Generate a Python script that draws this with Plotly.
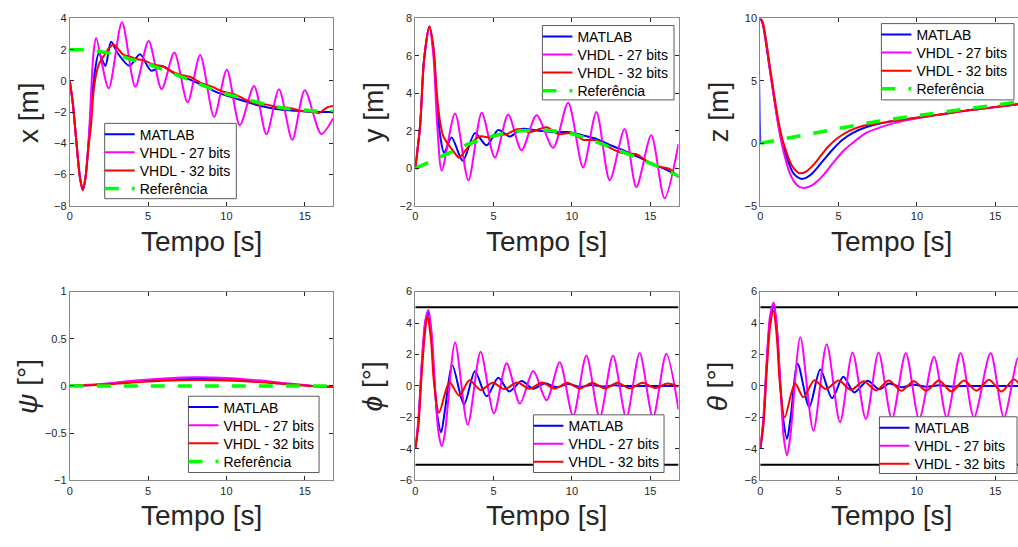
import plotly.graph_objects as go

W, H = 1018, 547
T_END = 16.8

# ---------------- x [m] ----------------
x_t_matlab = [0, 0.2, 0.42, 0.65, 0.83, 1.0, 1.2, 1.4, 1.6, 1.85, 2.27, 2.63, 3.06, 3.8, 4.48,
              5.18, 5.92, 6.77, 7.62, 8.47, 9.32, 10.17, 11.02, 11.87, 12.72, 13.57, 14.42,
              15.27, 16.43, 16.8]
x_matlab = [0, -1.5, -3.9, -6.2, -7.0, -6.2, -3.9, -1.3, 0.6, 1.77, 0.97, 2.5, 1.77, 0.97, 1.7,
            0.66, 0.93, 0.41, 0.1, -0.28, -0.7, -0.99, -1.26, -1.53, -1.72, -1.85, -1.91,
            -1.97, -1.99, -1.99]
x_t_27 = [0, 0.2, 0.42, 0.65, 0.83, 1.0, 1.2, 1.36, 1.51, 1.68, 2.48, 3.33, 4.18, 5.03, 5.86,
          6.67, 7.52, 8.32, 9.21, 10.02, 10.85, 11.76, 12.55, 13.35, 14.2, 15.0, 16.05, 16.8]
x_27 = [0, -1.5, -3.9, -6.2, -7.0, -6.2, -3.9, -0.74, 1.77, 2.75, -0.47, 3.75, -0.38, 2.56, -0.53,
        1.81, -1.37, 1.66, -2.3, 0.72, -2.83, -0.32, -3.41, -0.53, -3.77, -0.6, -3.4, -2.4]
x_t_32 = [0, 0.2, 0.42, 0.65, 0.83, 1.0, 1.2, 1.36, 1.51, 1.68, 1.89, 2.21, 2.53, 2.78, 3.06,
          3.38, 3.8, 4.3, 4.8, 5.3, 5.9, 6.5, 7.1, 7.7, 8.4, 9.1, 9.8, 10.5, 11.2, 11.9,
          12.6, 13.3, 14.0, 14.7, 15.4, 15.9, 16.43, 16.8]
x_32 = [0, -1.5, -3.9, -6.2, -7.0, -6.2, -4.2, -2.8, -0.74, 0.41, 1.14, 1.66, 2.14, 2.33, 2.08,
        1.7, 1.56, 1.38, 1.3, 1.05, 0.95, 0.6, 0.38, 0.25, -0.15, -0.38, -0.7, -0.85, -1.2,
        -1.45, -1.52, -1.7, -1.72, -1.92, -1.95, -2.05, -1.7, -1.6]
x_t_ref = [0, 1, 2, 3, 4, 5, 6, 7, 8, 9, 10, 11, 12, 13, 14, 15, 16, 16.8]
x_ref = [2.0, 2.0, 1.87, 1.7, 1.35, 1.08, 0.72, 0.3, -0.07, -0.5, -0.84, -1.1, -1.4, -1.64,
         -1.78, -1.9, -1.97, -1.98]

# ---------------- y [m] ----------------
y_t_matlab = [0, 0.31, 0.56, 0.9, 1.16, 1.37, 1.58, 1.84, 2.32, 3.03, 3.81, 4.55, 5.3, 6.04,
              6.78, 7.9, 9.01, 9.86, 10.71, 11.56, 12.62, 13.47, 14.32, 15.17, 16.02, 16.8]
y_matlab = [0, 2.31, 5.79, 7.57, 6.31, 3.7, 1.79, 0.83, 1.65, 0.4, 1.88, 1.23, 2.05, 1.7,
            2.1, 2.0, 1.93, 1.93, 1.76, 1.57, 1.18, 0.89, 0.57, 0.23, -0.07, -0.45]
y_t_27 = [0, 0.31, 0.56, 0.9, 1.16, 1.4, 1.69, 2.54, 3.39, 4.24, 5.08, 5.93, 6.78, 7.74, 8.8,
          9.76, 10.71, 11.56, 12.41, 13.36, 14.11, 15.06, 15.91, 16.8]
y_27 = [0, 2.31, 5.79, 7.57, 5.97, 2.31, -0.12, 2.92, -0.64, 2.97, 0.57, 2.87, 0.96, 2.83, 1.1,
        3.5, 0.05, 3.0, -0.64, 2.1, -1.0, 1.76, -1.6, 1.3]
y_t_32 = [0, 0.31, 0.56, 0.9, 1.16, 1.37, 1.58, 1.79, 2.11, 2.43, 2.79, 3.17, 3.6, 4.13, 4.77,
          5.3, 5.83, 6.57, 7.31, 8.38, 9.12, 9.97, 10.71, 11.56, 12.41, 13.15, 14.11, 14.75,
          15.59, 16.23, 16.8]
y_32 = [0, 2.31, 5.79, 7.57, 6.49, 4.05, 2.49, 1.7, 1.27, 0.92, 0.57, 0.92, 1.36, 1.7, 1.65,
        1.76, 1.83, 2.1, 1.93, 2.19, 1.83, 1.88, 1.53, 1.5, 1.1, 0.83, 0.75, 0.4, 0.09, -0.03,
        -0.5]
y_t_ref = [0, 0.84, 1.58, 2.43, 3.28, 4.13, 4.98, 5.83, 6.68, 7.53, 8.38, 9.22, 10.07, 10.92,
           11.77, 12.62, 13.47, 14.32, 15.17, 16.02, 16.8]
y_ref = [0, 0.31, 0.57, 0.92, 1.27, 1.53, 1.74, 1.88, 2.0, 2.03, 2.03, 1.97, 1.83, 1.62, 1.36,
         1.1, 0.8, 0.52, 0.23, -0.09, -0.42]

# ---------------- z [m] ----------------
z_t_matlab = [0, 0, 0.16, 0.37, 0.58, 0.8, 1.01, 1.22, 1.43, 1.65, 1.86, 2.07, 2.32, 2.6, 2.92,
              3.24, 3.66, 4.09, 4.62, 5.25, 5.89, 6.74, 8.01, 9.71, 11.41, 13.11, 14.81, 16.46]
z_matlab = [0, 10, 9.56, 7.99, 6.16, 4.34, 2.64, 1.08, -0.1, -1.0, -1.71, -2.31, -2.65, -2.84,
            -2.76, -2.5, -1.92, -1.27, -0.49, 0.29, 0.82, 1.29, 1.68, 1.99, 2.3, 2.62, 2.88, 3.14]
z_t_27 = [0, 0.16, 0.37, 0.58, 0.8, 1.01, 1.22, 1.43, 1.65, 1.86, 2.18, 2.5, 2.81, 3.24, 3.66,
          4.09, 4.62, 5.25, 5.89, 6.74, 7.8, 9.08, 10.56, 12.0, 13.11, 14.81, 16.46]
z_27 = [10, 9.61, 8.12, 6.22, 4.34, 2.56, 0.95, -0.36, -1.45, -2.31, -3.1, -3.49, -3.57, -3.41,
        -3.02, -2.44, -1.61, -0.67, 0.03, 0.82, 1.34, 1.78, 2.12, 2.4, 2.6, 2.87, 3.13]
z_t_32 = [0, 0.16, 0.37, 0.58, 0.8, 1.01, 1.22, 1.43, 1.65, 1.86, 2.07, 2.5, 2.92, 3.34, 3.77,
          4.3, 4.94, 5.68, 6.53, 7.59, 8.44, 9.71, 11.41, 13.11, 14.81, 16.46]
z_32 = [10, 9.69, 8.25, 6.43, 4.6, 2.9, 1.42, 0.24, -0.62, -1.35, -1.88, -2.39, -2.26, -1.79,
        -1.14, -0.31, 0.43, 1.0, 1.39, 1.6, 1.78, 2.0, 2.3, 2.62, 2.88, 3.14]
z_t_ref = [0, 1.22, 2.28, 3.77, 5.25, 6.74, 8.44, 10.14, 11.83, 13.53, 15.23, 16.8]
z_ref = [0, 0.29, 0.56, 0.89, 1.26, 1.6, 1.94, 2.25, 2.56, 2.83, 3.09, 3.4]

# ---------------- psi [deg] ----------------
psi_t = [0, 2, 4, 6, 8, 10, 12, 14, 15.5, 16.8]
psi_matlab = [0, 0.015, 0.045, 0.065, 0.075, 0.07, 0.05, 0.02, 0.0, -0.01]
psi_27 = [0, 0.02, 0.055, 0.08, 0.092, 0.085, 0.06, 0.025, 0.0, -0.012]
psi_32 = [0, 0.012, 0.038, 0.055, 0.062, 0.058, 0.042, 0.017, 0.0, -0.012]
psi_t_ref = [0, 16.8]
psi_ref = [0, 0]

# ---------------- phi [deg] ----------------
phi_t_matlab = [0, 0.2, 0.41, 0.63, 0.8, 0.99, 1.2, 1.41, 1.65, 1.9, 2.37, 3.11, 3.81, 4.55,
                5.3, 6.0, 6.78, 7.53, 8.27, 9.01, 9.76, 10.5, 11.24, 12.0, 12.7, 13.5, 16.8]
phi_matlab = [-4.0, -2.32, 1.2, 3.9, 4.73, 3.69, 0.58, -1.91, -2.94, -1.49, 1.31, -1.18, 0.93,
              -0.66, 0.52, -0.35, 0.31, -0.17, 0.17, -0.08, 0.12, -0.05, 0.06, -0.04, 0.04,
              0.0, 0.0]
phi_t_27 = [0, 0.2, 0.41, 0.63, 0.84, 1.05, 1.27, 1.48, 1.69, 1.9, 2.54, 3.35, 4.17, 5.02, 5.83,
            6.68, 7.53, 8.38, 9.22, 10.07, 10.92, 11.77, 12.62, 13.47, 14.32, 15.17, 16.02, 16.8]
phi_27 = [-4.0, -2.11, 1.41, 4.1, 4.83, 3.27, -0.25, -2.94, -3.83, -2.94, 2.76, -2.47, 2.18,
          -1.74, 1.45, -1.12, 0.95, -0.91, 1.51, -1.91, 1.93, -2.01, 1.93, -2.01, 2.09, -2.0,
          2.05, -1.5]
phi_t_32 = [0, 0.2, 0.41, 0.63, 0.77, 0.99, 1.2, 1.52, 2.18, 2.81, 3.45, 4.17, 4.94, 5.7, 6.5,
            7.3, 8.1, 8.9, 9.7, 10.5, 11.3, 12.1, 12.9, 13.7, 14.5, 15.3, 16.1, 16.8]
phi_32 = [-4.0, -2.53, 0.79, 3.48, 4.41, 3.07, 0.17, -1.7, 0.23, -0.62, 0.37, -0.25, 0.2, -0.2,
          0.22, -0.18, 0.22, -0.17, 0.2, -0.17, 0.2, -0.15, 0.2, -0.15, 0.2, -0.13, 0.15, -0.05]

# ---------------- theta [deg] ----------------
th_t_matlab = [0, 0.2, 0.41, 0.63, 0.86, 1.05, 1.25, 1.45, 1.71, 1.95, 2.39, 3.13, 3.83, 4.58,
               5.3, 6.0, 6.85, 7.59, 8.23, 9.0, 9.8, 10.6, 11.4, 12.2, 13.0, 16.8]
th_matlab = [-4.0, -2.3, 1.3, 4.2, 5.1, 3.8, 0.6, -2.0, -3.36, -1.9, 1.41, -1.33, 1.04, -0.77,
             0.58, -0.41, 0.33, -0.21, 0.15, -0.08, 0.08, -0.05, 0.05, -0.03, 0.0, 0.0]
th_t_27 = [0, 0.2, 0.41, 0.63, 0.86, 1.07, 1.3, 1.5, 1.71, 1.92, 2.56, 3.39, 4.24, 5.09, 5.89,
           6.74, 7.55, 8.4, 9.29, 10.14, 11.09, 11.9, 12.79, 13.64, 14.7, 15.55, 16.46, 16.8]
th_27 = [-4.0, -2.0, 1.6, 4.5, 5.3, 3.6, -0.2, -3.3, -4.4, -3.2, 3.1, -2.84, 2.65, -2.3, 2.13,
         -2.1, 2.13, -2.1, 2.1, -2.1, 1.85, -2.0, 2.1, -2.0, 2.1, -2.0, 1.8, 0.5]
th_t_32 = [0, 0.2, 0.41, 0.63, 0.84, 1.05, 1.25, 1.56, 2.22, 2.75, 3.45, 4.19, 5.0, 5.8, 6.6,
           7.4, 8.2, 9.0, 9.8, 10.6, 11.4, 12.2, 13.0, 13.8, 14.6, 15.4, 16.2, 16.8]
th_32 = [-4.0, -2.5, 0.9, 3.8, 4.77, 3.2, 0.2, -2.0, 0.17, -0.72, 0.37, -0.2, 0.35, -0.25, 0.3,
         -0.28, 0.35, -0.3, 0.3, -0.3, 0.35, -0.35, 0.35, -0.3, 0.4, -0.35, 0.42, -0.35]

# attitude limits drawn as horizontal black lines
att_limit_t = [0, T_END]
att_limits = [5, -5]

BLUE, MAGENTA, RED, GREEN = "#0000ff", "#ff00ff", "#ff0000", "#00ff00"
FONT = "Liberation Sans, Arial, Helvetica, sans-serif"

# panel geometry (pixels)
COL_X0 = [67, 413.5, 759.5]
PANEL_W = 264
ROW_Y = [(12.7, 204.3), (292, 485)]
PX_PER_S = PANEL_W / T_END
ROW_PITCH = 18.5

panels = [
    dict(ylabel="x [m]", yr=[-8, 4], dt=2,
         series=[(x_t_matlab, x_matlab), (x_t_27, x_27), (x_t_32, x_32), (x_t_ref, x_ref)],
         box=(102, 120, 234, 197)),
    dict(ylabel="y [m]", yr=[-2, 8], dt=2,
         series=[(y_t_matlab, y_matlab), (y_t_27, y_27), (y_t_32, y_32), (y_t_ref, y_ref)],
         box=(541, 20, 673, 96)),
    dict(ylabel="z [m]", yr=[-5, 10], dt=5,
         series=[(z_t_matlab, z_matlab), (z_t_27, z_27), (z_t_32, z_32), (z_t_ref, z_ref)],
         box=(881, 18, 1014, 96)),
    dict(ylabel="<i>ψ</i> [°]", yr=[-1, 1], dt=0.5,
         series=[(psi_t, psi_matlab), (psi_t, psi_27), (psi_t, psi_32), (psi_t_ref, psi_ref)],
         box=(186, 399, 317, 477)),
    dict(ylabel="<i>ϕ</i> [°]", yr=[-6, 6], dt=2,
         series=[(phi_t_matlab, phi_matlab), (phi_t_27, phi_27), (phi_t_32, phi_32)],
         box=(532, 418, 663, 477), limits=True),
    dict(ylabel="<i>θ</i> [°]", yr=[-6, 6], dt=2,
         series=[(th_t_matlab, th_matlab), (th_t_27, th_27), (th_t_32, th_32)],
         box=(879, 420, 1017, 478), limits=True),
]

names = ["MATLAB", "VHDL - 27 bits", "VHDL - 32 bits", "Referência"]
colors = [BLUE, MAGENTA, RED, GREEN]

fig = go.Figure()
layout = dict(width=W, height=H, margin=dict(l=0, r=0, t=0, b=0),
              paper_bgcolor="white", plot_bgcolor="white", showlegend=True,
              annotations=[], shapes=[])

leg_count = 0
for i, p in enumerate(panels):
    k = i + 1
    row, col = divmod(i, 3)
    x0 = COL_X0[col]
    x1 = min(x0 + PANEL_W, W)
    y_top, y_bot = ROW_Y[row]
    xr = [0, (x1 - x0) / PX_PER_S]
    xa_name = "xaxis" if k == 1 else f"xaxis{k}"
    ya_name = "yaxis" if k == 1 else f"yaxis{k}"
    xref = "x" if k == 1 else f"x{k}"
    yref = "y" if k == 1 else f"y{k}"

    tick_font = dict(family=FONT, size=11, color="#262626")
    layout[xa_name] = dict(domain=[x0 / W, x1 / W], range=xr, anchor=yref,
                           tickvals=[0, 5, 10, 15], ticks="inside", ticklen=4,
                           tickcolor="#262626", showline=True, linecolor="#8a8a8a",
                           linewidth=1, mirror="ticks", showgrid=False, zeroline=False,
                           tickfont=tick_font)
    n = round((p["yr"][1] - p["yr"][0]) / p["dt"])
    yt = [p["yr"][0] + j * p["dt"] for j in range(n + 1)]
    layout[ya_name] = dict(domain=[1 - y_bot / H, 1 - y_top / H], range=p["yr"], anchor=xref,
                           tickvals=yt, ticks="inside", ticklen=4, tickcolor="#262626",
                           showline=True, linecolor="#8a8a8a", linewidth=1,
                           mirror=("ticks" if x1 - x0 >= PANEL_W else False),
                           showgrid=False, zeroline=False, tickfont=tick_font)

    if p.get("limits"):
        for lim in att_limits:
            fig.add_trace(go.Scatter(x=att_limit_t, y=[lim, lim], mode="lines",
                                     line=dict(color="black", width=2), showlegend=False,
                                     xaxis=xref, yaxis=yref, hoverinfo="skip"))

    # legend frame: white box above the curves, one single-entry legend per row
    bx0, by0, bx1, by1 = p["box"]
    layout["shapes"].append(dict(type="rect", xref="paper", yref="paper",
                                 x0=bx0 / W, x1=bx1 / W, y0=1 - by1 / H, y1=1 - by0 / H,
                                 fillcolor="white", line=dict(color="#5a5a5a", width=1),
                                 layer="above"))

    for j, (t, v) in enumerate(p["series"]):
        if j == 3:
            line = dict(color=GREEN, width=3.5, dash="14px,13px")
        else:
            line = dict(color=colors[j], width=2, shape="spline", smoothing=0.8)
        leg_count += 1
        leg_name = "legend" if leg_count == 1 else f"legend{leg_count}"
        fig.add_trace(go.Scatter(x=t, y=v, mode="lines", name=names[j], line=line,
                                 xaxis=xref, yaxis=yref, legend=leg_name))
        cy = by0 + 11.5 + ROW_PITCH * j
        layout[leg_name] = dict(x=(bx0 - 5) / W, y=1 - cy / H, xanchor="left",
                                yanchor="middle", bgcolor="rgba(0,0,0,0)", borderwidth=0,
                                itemwidth=30,
                                font=dict(family=FONT, size=14, color="black"))

    # axis titles
    layout["annotations"].append(dict(
        text="Tempo [s]", x=(x0 + PANEL_W / 2) / W, y=1 - (y_bot + 36) / H,
        xref="paper", yref="paper", showarrow=False, xanchor="center", yanchor="middle",
        font=dict(family=FONT, size=28, color="#262626")))
    layout["annotations"].append(dict(
        text=p["ylabel"], x=(x0 - 42) / W, y=1 - ((y_top + y_bot) / 2) / H,
        xref="paper", yref="paper", showarrow=False, xanchor="center", yanchor="middle",
        textangle=-90, font=dict(family=FONT, size=28, color="#262626")))

fig.update_layout(**layout)
fig.write_html("out.html")
